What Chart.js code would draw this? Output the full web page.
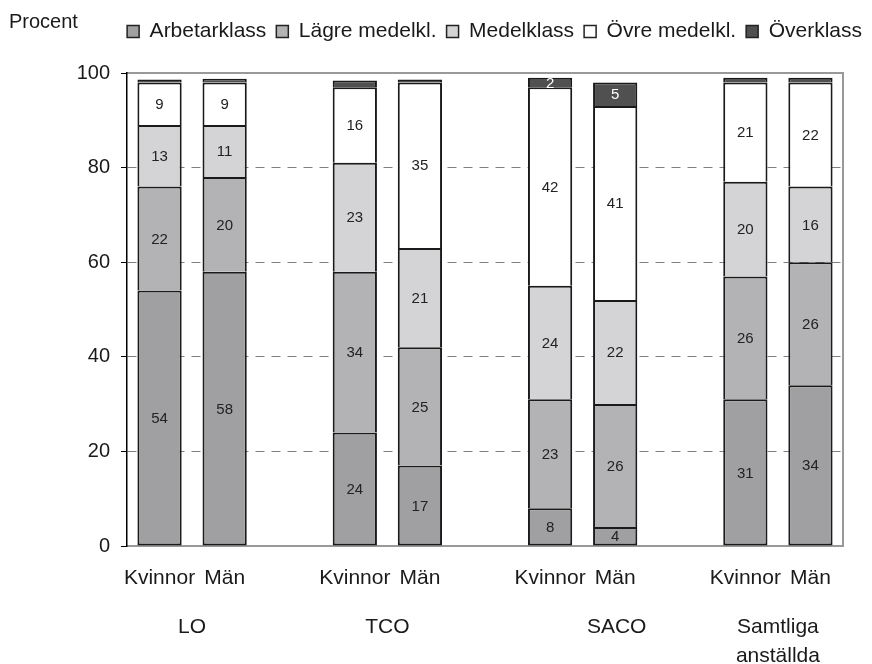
<!DOCTYPE html>
<html>
<head>
<meta charset="utf-8">
<script src="https://cdn.jsdelivr.net/npm/chart.js@4.4.0/dist/chart.umd.min.js"></script>
<style>
  html, body { margin: 0; padding: 0; background: #fff; }
  #wrap { width: 872px; height: 664px; }
</style>
</head>
<body>
<div id="wrap"><canvas id="chart" width="872" height="664"></canvas></div>
<script>
// Bar slots: two bars per group, empty slot between groups
const barLabels = ['Kvinnor', 'Män', '', 'Kvinnor', 'Män', '', 'Kvinnor', 'Män', '', 'Kvinnor', 'Män'];
const groupNames = [['LO'], ['TCO'], ['SACO'], ['Samtliga', 'anställda']];
const groupSlots = [[0, 1], [3, 4], [6, 7], [9, 10]];
const seriesNames = ['Arbetarklass', 'Lägre medelkl.', 'Medelklass', 'Övre medelkl.', 'Överklass'];

// Percent values per bar (null = gap slot)
const arbetarklass = [54, 58, null, 24, 17, null, 8, 4, null, 31, 34];
const lagreMedel   = [22, 20, null, 34, 25, null, 23, 26, null, 26, 26];
const medelklass   = [13, 11, null, 23, 21, null, 24, 22, null, 20, 16];
const ovreMedel    = [9, 9, null, 16, 35, null, 42, 41, null, 21, 22];
const overklass    = [0.6, 0.8, null, 1.4, 0.6, null, 2, 5, null, 1, 1];

const yTicks = [0, 20, 40, 60, 80, 100];

const FONT = "'Liberation Sans', Arial, sans-serif";
const TEXT = '#1a1a1a';
const colors = ['#a0a0a2', '#b3b3b5', '#d4d4d6', '#ffffff', '#505050'];
const seriesData = [arbetarklass, lagreMedel, medelklass, ovreMedel, overklass];

// numbers inside the bar segments
const valueLabels = {
  id: 'valueLabels',
  afterDatasetsDraw(chart) {
    const ctx = chart.ctx;
    ctx.save();
    ctx.font = '15px ' + FONT;
    ctx.textAlign = 'center';
    ctx.textBaseline = 'middle';
    chart.data.datasets.forEach((ds, di) => {
      chart.getDatasetMeta(di).data.forEach((bar, i) => {
        const v = ds.data[i];
        if (v == null || v < 2) return;
        const {x, y, base} = bar.getProps(['x', 'y', 'base'], true);
        ctx.fillStyle = di === 4 ? '#ffffff' : '#222222';
        ctx.fillText(String(v), x, (y + base) / 2 + 1);
      });
    });
    ctx.restore();
  }
};

// "Procent", the group names under the axis, and a taller legend block
const extraText = {
  id: 'extraText',
  beforeLayout(chart) {
    const lg = chart.legend;
    if (lg && !lg._tall) {
      const fit = lg.fit;
      lg.fit = function() {
        fit.call(this);
        this.height = 62;
      };
      lg._tall = true;
    }
  },
  afterDraw(chart) {
    const ctx = chart.ctx;
    const xs = chart.scales.x;
    const area = chart.chartArea;
    const groupShift = [0, 0, 34, 0];
    ctx.save();
    ctx.fillStyle = TEXT;
    ctx.font = '20px ' + FONT;
    ctx.textAlign = 'left';
    ctx.textBaseline = 'alphabetic';
    ctx.fillText('Procent', 9, 28);
    ctx.font = '21px ' + FONT;
    ctx.textAlign = 'center';
    groupNames.forEach((lines, g) => {
      const [a, b] = groupSlots[g];
      const cx = (xs.getPixelForValue(a) + xs.getPixelForValue(b)) / 2 + groupShift[g];
      lines.forEach((t, k) => ctx.fillText(t, cx, area.bottom + 87 + k * 29));
    });
    ctx.restore();
  }
};

const canvas = document.getElementById('chart');
new Chart(canvas, {
  type: 'bar',
  data: {
    labels: barLabels,
    datasets: seriesNames.map((name, i) => ({
      label: name,
      data: seriesData[i],
      backgroundColor: colors[i],
      borderColor: '#1a1a1a',
      borderWidth: 2,
      borderSkipped: i === 0 ? false : 'start',
      barPercentage: 0.68,
      categoryPercentage: 1.0
    }))
  },
  options: {
    responsive: false,
    animation: false,
    devicePixelRatio: 1,
    layout: {
      padding: { top: 11, right: 0, left: 0, bottom: 0 }
    },
    plugins: {
      legend: {
        position: 'top',
        align: 'end',
        labels: {
          boxWidth: 12,
          boxHeight: 12,
          padding: 10,
          color: TEXT,
          font: { size: 21, family: FONT },
          generateLabels(chart) {
            const items = Chart.defaults.plugins.legend.labels.generateLabels(chart);
            items.forEach(item => {
              item.lineWidth = 1.5;
              item.strokeStyle = '#222222';
            });
            return items;
          }
        }
      },
      tooltip: { enabled: false }
    },
    scales: {
      x: {
        stacked: true,
        grid: { display: false, drawTicks: false },
        border: { color: '#999999', width: 2 },
        ticks: {
          color: TEXT,
          font: { size: 21, family: FONT },
          padding: 20,
          maxRotation: 0,
          autoSkip: false
        },
        afterFit(scale) { scale.height = 118; }
      },
      xTop: {
        axis: 'x',
        type: 'category',
        position: 'top',
        grid: { display: false, drawTicks: false },
        ticks: { display: false },
        border: { color: '#999999', width: 2 },
        afterFit(scale) { scale.height = 0; }
      },
      y: {
        stacked: true,
        min: 0,
        max: 100,
        afterBuildTicks(scale) {
          scale.ticks = yTicks.map(v => ({ value: v }));
        },
        ticks: {
          color: TEXT,
          font: { size: 20, family: FONT },
          padding: 11
        },
        grid: {
          color: c => (c.tick && (c.tick.value === 0 || c.tick.value === 100)) ? 'rgba(0,0,0,0)' : '#808080',
          tickColor: '#000000',
          tickLength: 6,
          lineWidth: 1
        },
        border: { color: '#000000', width: 1.5, dash: [9, 7] },
        afterFit(scale) { scale.width = 127; }
      },
      yRight: {
        axis: 'y',
        position: 'right',
        min: 0,
        max: 100,
        grid: { display: false, drawTicks: false },
        ticks: { display: false },
        border: { color: '#999999', width: 2 },
        afterFit(scale) { scale.width = 29; }
      }
    }
  },
  plugins: [valueLabels, extraText]
});
</script>
</body>
</html>
